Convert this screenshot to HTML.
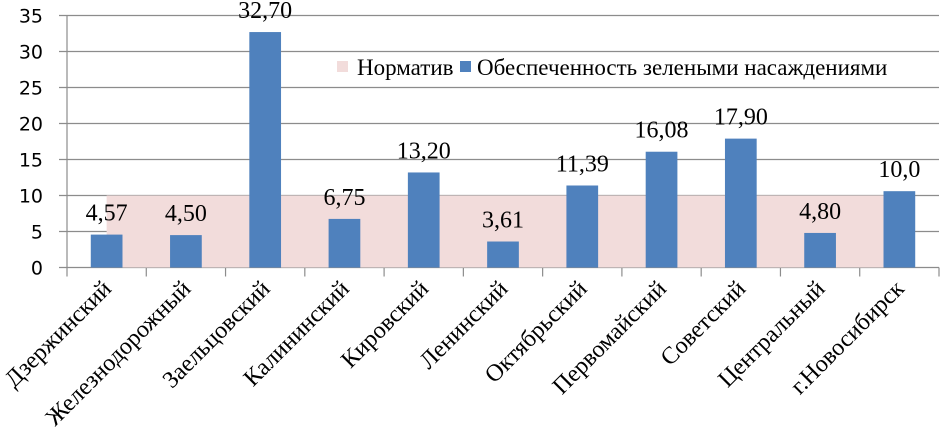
<!DOCTYPE html>
<html><head><meta charset="utf-8"><style>
html,body{margin:0;padding:0;background:#fff}
svg{display:block}
.serif{font-family:"Liberation Serif","Times New Roman",serif}
</style></head><body>
<svg id="chart" width="942" height="447" xmlns="http://www.w3.org/2000/svg"></svg>
<script>
const categories = ["Дзержинский","Железнодорожный","Заельцовский","Калининский","Кировский","Ленинский","Октябрьский","Первомайский","Советский","Центральный","г.Новосибирск"];
const greenValues = [4.57,4.50,32.70,6.75,13.20,3.61,11.39,16.08,17.90,4.80,10.6];
const valueLabels = ["4,57","4,50","32,70","6,75","13,20","3,61","11,39","16,08","17,90","4,80","10,0"];
const normValue = 10;
const yTicks = [0,5,10,15,20,25,30,35];

const NS="http://www.w3.org/2000/svg";
const svg=document.getElementById('chart');
const L=67,R=939,T0=267.5,PX=7.2;
const cw=(R-L)/categories.length;
const y=v=>T0-v*PX;
const xc=i=>L+cw*(i+0.5);
function el(tag,attrs,parent){const e=document.createElementNS(NS,tag);for(const k in attrs)e.setAttribute(k,attrs[k]);(parent||svg).appendChild(e);return e;}

yTicks.forEach(t=>{
  const g=el('line',{x1:59,x2:R,y1:y(t),y2:y(t),stroke:'#8c8c8c','stroke-width':1.2});
  
  
  const tx=el('text',{x:43,y:y(t)+7,'text-anchor':'end','font-family':'DejaVu Sans, Liberation Sans, sans-serif','font-size':19,fill:'#000'});
  tx.textContent=t;
  
  
});

const area=el('rect',{x:xc(0),y:y(normValue),width:xc(categories.length-1)-xc(0),height:y(0)-y(normValue),fill:'#f2dcdb'});



const bw=cw*0.4;
greenValues.forEach((v,i)=>{
  const b=el('rect',{x:xc(i)-bw/2,y:y(v),width:bw,height:y(0)-y(v),fill:'#4f81bd'});
  
  
  const t=el('text',{x:xc(i),y:y(v)-14,'text-anchor':'middle','class':'serif','font-size':24,fill:'#000'});
  t.textContent=valueLabels[i];
  
  
});

const ya=el('line',{x1:L,x2:L,y1:y(35),y2:y(0),stroke:'#8c8c8c','stroke-width':1.2});


for(let i=0;i<=categories.length;i++){
  const tk=el('line',{x1:L+cw*i,x2:L+cw*i,y1:y(0),y2:y(0)+9,stroke:'#8c8c8c','stroke-width':1.2});
  
  
}
categories.forEach((c,i)=>{
  const x=xc(i)+6,yy=290;
  const t=el('text',{x:x,y:yy,'text-anchor':'end','class':'serif','font-size':24,fill:'#000',transform:`rotate(-45 ${x} ${yy})`});
  t.textContent=c;
  
  
});

const lg=el('g',{});


el('rect',{x:333,y:55,width:607,height:26,fill:'#fff'},lg);
const s1=el('rect',{x:337,y:61,width:11,height:11,fill:'#f2dcdb'},lg);


const t1=el('text',{x:357,y:75,'class':'serif','font-size':23,fill:'#000'},lg);
t1.textContent='Норматив';


const s2=el('rect',{x:460,y:61,width:11,height:11,fill:'#4f81bd'},lg);


const t2=el('text',{x:477,y:75,'class':'serif','font-size':23,fill:'#000'},lg);
t2.textContent='Обеспеченность зелеными насаждениями';


</script>
</body></html>
